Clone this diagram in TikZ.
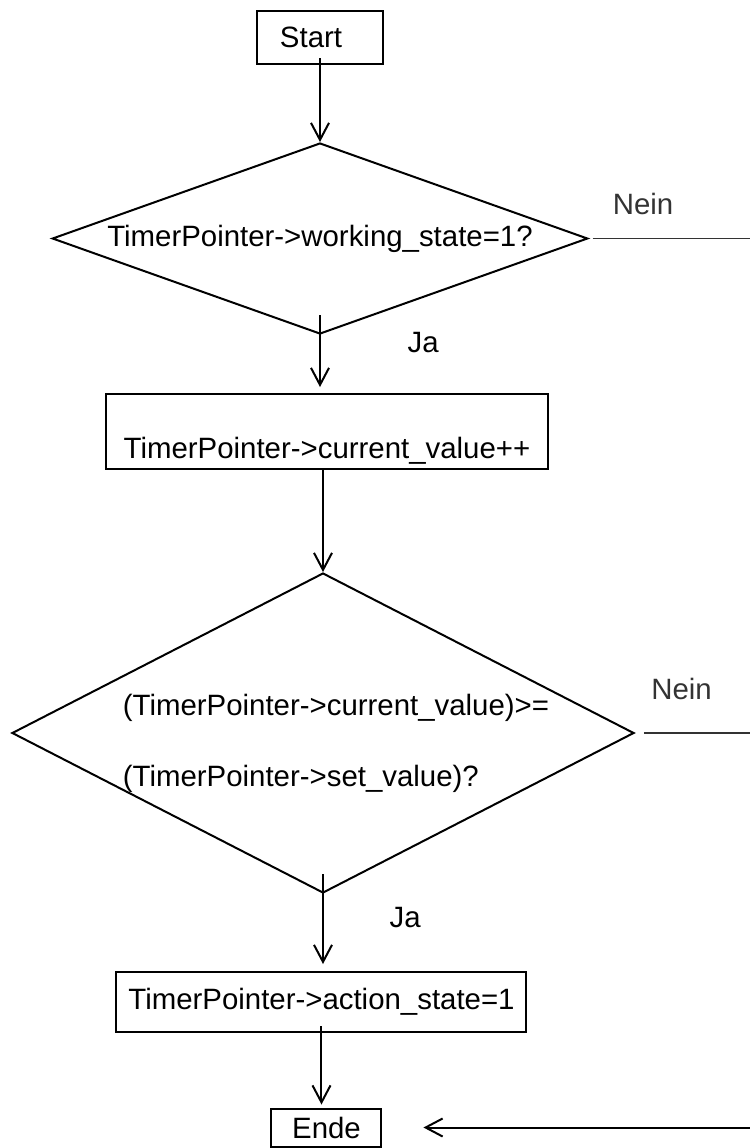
\documentclass[tikz,border=0pt]{standalone}
\usepackage{fontspec}
\setmainfont{Liberation Sans}
\usetikzlibrary{shapes.geometric, arrows.meta}
\tikzstyle{startstop} = [rectangle, text centered, draw=black, line width=1pt]
\tikzstyle{process} = [rectangle, text centered, draw=black, line width=1pt]
\tikzstyle{decision} = [diamond, inner sep=0pt, text centered, draw=black, line width=1pt]
\tikzstyle{arrow} = [line width=1pt,-{Straight Barb[length=8.5pt,width=9pt]}]
\tikzstyle{linie} = [line width=0.75pt, black!80]

\begin{document}
\begin{tikzpicture}[node distance=100pt, font=\fontsize{14.7}{17.6}\selectfont]

			\useasboundingbox (-160pt,18.75pt) rectangle (215pt,-555.25pt);
			\coordinate (rand) at (215pt,0pt);

			\node (start) [startstop, minimum width=63pt, minimum height=26.5pt, text width=40pt, inner xsep=11.5pt, align=left] {Start};
			\node (laeuft) [decision, below of=start, yshift=-0.5pt, minimum width=267.75pt, minimum height=95.5pt, shape aspect=2.8] {TimerPointer->working\_state=1?};
			\node (zaehlen) [process, below of=laeuft, yshift=3.5pt, xshift=3.5pt, minimum width=221pt, minimum height=37.5pt, inner ysep=0pt, text height=31pt, text depth=4pt] {TimerPointer->current\_value++};
			\node (vergleich) [decision, below of=zaehlen, yshift=-50.75pt, xshift=-2pt, minimum width=311pt, minimum height=160pt] {};
			\node (vergleichtext) [align=left, xshift=6.5pt, yshift=-5pt] at (vergleich) {(TimerPointer->current\_value)>=\\[18pt](TimerPointer->set\_value)?};
			\node (ausloesen) [process, below of=vergleich, yshift=-34.5pt, xshift=-0.75pt, minimum width=205pt, minimum height=30pt] {TimerPointer->action\_state=1};
			\node (ende) [startstop, below of=ausloesen, yshift=37.25pt, xshift=2.5pt, minimum width=55pt, minimum height=19pt] {Ende};

			\draw [arrow] ([yshift=3.5pt]start.south) -- (laeuft.north);
			\draw [arrow] ([yshift=10pt]laeuft.south) -- node (jaA) [pos=0.38, right=40pt] {Ja} ([yshift=3pt]laeuft.south |- zaehlen.north);
			\draw [linie] ([xshift=2pt]laeuft.east) -- node (neinA) [pos=0.32, above=8pt] {Nein} (laeuft.east -| rand);

			\draw [arrow] (zaehlen.south -| vergleich.north) -- (vergleich.north);
			\draw [arrow] ([yshift=10pt]vergleich.south) -- node (jaB) [pos=0.48, right=29.5pt] {Ja} ([yshift=3.5pt]vergleich.south |- ausloesen.north);
			\draw [linie] ([xshift=4.5pt]vergleich.east) -- node (neinB) [pos=0.355, above=13pt] {Nein} (vergleich.east -| rand);

			\draw [arrow] ([yshift=3.5pt]ausloesen.south) -- ([yshift=1.5pt]ausloesen.south |- ende.north);
			\draw [arrow] (ende.east -| rand) -- ([xshift=20.5pt]ende.east);

		\end{tikzpicture}
\end{document}
